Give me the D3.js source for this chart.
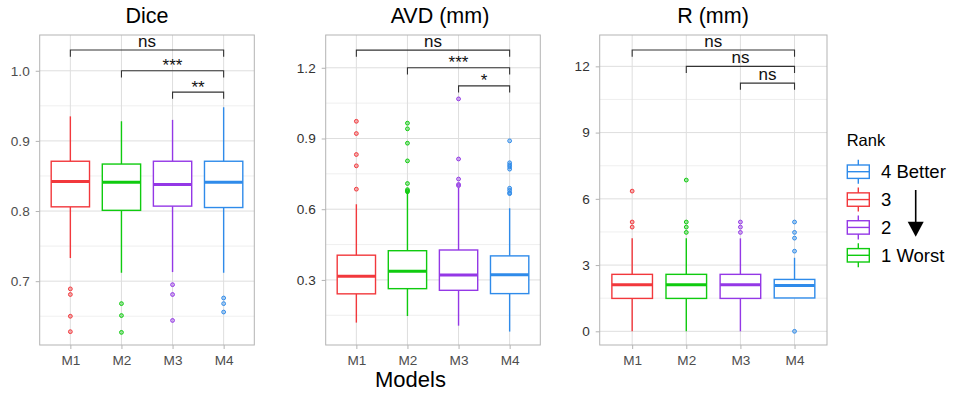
<!DOCTYPE html>
<html>
<head>
<meta charset="utf-8">
<script src="https://cdn.jsdelivr.net/npm/d3@7"></script>
<style>
  html, body { margin: 0; padding: 0; background: #fff; }
  svg { display: block; font-family: "Liberation Sans", Arial, Helvetica, sans-serif; }
</style>
</head>
<body>
<svg id="chart" width="955" height="396"></svg>
<script>
// ---------------- DATA ----------------
const models = ["M1", "M2", "M3", "M4"];
const modelColors = ["#f2383c", "#0fcb0f", "#9438e6", "#2f8bea"];
const legendLabels = ["4 Better", "3", "2", "1 Worst"];
const legendColors = ["#2f8bea", "#f2383c", "#9438e6", "#0fcb0f"];

// Dice
const diceQ1  = [0.806, 0.801, 0.807, 0.805];
const diceMed = [0.842, 0.841, 0.838, 0.841];
const diceQ3  = [0.871, 0.867, 0.871, 0.871];
const diceLo  = [0.733, 0.712, 0.713, 0.712];
const diceHi  = [0.935, 0.928, 0.930, 0.948];
const diceOut = [[0.689, 0.681, 0.650, 0.628], [0.668, 0.651, 0.627], [0.695, 0.681, 0.644], [0.676, 0.668, 0.656]];
const diceTicks = [0.7, 0.8, 0.9, 1.0];
const diceMinor = [0.65, 0.75, 0.85, 0.95];
const diceSig = [{from: 0, to: 3, y: 1.0296, label: "ns"}, {from: 1, to: 3, y: 1.0, label: "***"}, {from: 2, to: 3, y: 0.9696, label: "**"}];

// AVD (mm)
const avdQ1  = [0.241, 0.263, 0.256, 0.242];
const avdMed = [0.316, 0.337, 0.321, 0.322];
const avdQ3  = [0.405, 0.424, 0.427, 0.402];
const avdLo  = [0.119, 0.147, 0.106, 0.081];
const avdHi  = [0.621, 0.675, 0.690, 0.604];
const avdOut = [[0.973, 0.921, 0.832, 0.784, 0.685], [0.965, 0.941, 0.880, 0.805, 0.709, 0.683, 0.678, 0.674], [1.068, 0.813, 0.728, 0.705, 0.700], [0.890, 0.797, 0.788, 0.780, 0.770, 0.689, 0.680, 0.670, 0.666]];
const avdTicks = [0.3, 0.6, 0.9, 1.2];
const avdMinor = [0.15, 0.45, 0.75, 1.05];
const avdSig = [{from: 0, to: 3, y: 1.275, label: "ns"}, {from: 1, to: 3, y: 1.2, label: "***"}, {from: 2, to: 3, y: 1.123, label: "*"}];

// R (mm)
const rQ1  = [1.49, 1.49, 1.49, 1.51];
const rMed = [2.11, 2.11, 2.11, 2.08];
const rQ3  = [2.58, 2.58, 2.58, 2.35];
const rLo  = [0, 0, 0, 1.51];
const rHi  = [4.21, 4.21, 4.21, 3.33];
const rOut = [[6.35, 4.95, 4.72], [6.85, 4.95, 4.72, 4.48], [4.95, 4.72, 4.48], [4.95, 4.48, 4.22, 3.63, 0]];
const rTicks = [0, 3, 6, 9, 12];
const rMinor = [1.5, 4.5, 7.5, 10.5];
const rSig = [{from: 0, to: 3, y: 12.74, label: "ns"}, {from: 1, to: 3, y: 12.0, label: "ns"}, {from: 2, to: 3, y: 11.24, label: "ns"}];

// ---------------- LAYOUT ----------------
const svg = d3.select("#chart");
const panelTop = 35, panelBottom = 345;

const panels = [
  {title: "Dice", x0: 39.7, x1: 254.3, dom: [0.609, 1.051], titleX: 147, fmt: d3.format(".1f"), ylabColor: "#4d4d4d",
   q1: diceQ1, med: diceMed, q3: diceQ3, lo: diceLo, hi: diceHi, out: diceOut, ticks: diceTicks, minor: diceMinor, sig: diceSig},
  {title: "AVD (mm)", x0: 325.7, x1: 540.3, dom: [0.024, 1.339], titleX: 440, fmt: d3.format(".1f"), ylabColor: "#333",
   q1: avdQ1, med: avdMed, q3: avdQ3, lo: avdLo, hi: avdHi, out: avdOut, ticks: avdTicks, minor: avdMinor, sig: avdSig},
  {title: "R (mm)", x0: 599.7, x1: 827, dom: [-0.62, 13.42], titleX: 713, fmt: d3.format("d"), ylabColor: "#333",
   q1: rQ1, med: rMed, q3: rQ3, lo: rLo, hi: rHi, out: rOut, ticks: rTicks, minor: rMinor, sig: rSig}
];

panels.forEach(p => {
  const g = svg.append("g");
  const x = d3.scalePoint().domain(models).range([p.x0, p.x1]).padding(0.6);
  const y = d3.scaleLinear().domain(p.dom).range([panelBottom, panelTop]);
  const bw = x.step() * 0.75;

  // minor grid
  g.selectAll(".minor").data(p.minor).join("line")
    .attr("x1", p.x0).attr("x2", p.x1).attr("y1", d => y(d)).attr("y2", d => y(d))
    .attr("stroke", "#ebebeb").attr("stroke-width", 0.8);
  // major grid
  g.selectAll(".majorH").data(p.ticks).join("line")
    .attr("x1", p.x0).attr("x2", p.x1).attr("y1", d => y(d)).attr("y2", d => y(d))
    .attr("stroke", "#dedede").attr("stroke-width", 1);
  g.selectAll(".majorV").data(models).join("line")
    .attr("x1", d => x(d)).attr("x2", d => x(d)).attr("y1", panelTop).attr("y2", panelBottom)
    .attr("stroke", "#dedede").attr("stroke-width", 1);

  // axes
  const ya = g.append("g").attr("transform", `translate(${p.x0},0)`)
    .call(d3.axisLeft(y).tickValues(p.ticks).tickFormat(p.fmt).tickSize(4).tickPadding(6));
  ya.select(".domain").remove();
  ya.selectAll("line").attr("stroke", "#b3b3b3");
  ya.selectAll("text").attr("fill", p.ylabColor).style("font-size", "13.6px");

  const xa = g.append("g").attr("transform", `translate(0,${panelBottom})`)
    .call(d3.axisBottom(x).tickSize(4).tickPadding(6.5));
  xa.select(".domain").remove();
  xa.selectAll("line").attr("stroke", "#b3b3b3");
  xa.selectAll("text").attr("fill", "#4d4d4d").style("font-size", "13.6px");

  // boxes
  models.forEach((m, i) => {
    const c = modelColors[i];
    const cx = x(m);
    const bg = g.append("g");
    bg.append("line").attr("x1", cx).attr("x2", cx).attr("y1", y(p.q3[i])).attr("y2", y(p.hi[i]))
      .attr("stroke", c).attr("stroke-width", 1.4);
    bg.append("line").attr("x1", cx).attr("x2", cx).attr("y1", y(p.q1[i])).attr("y2", y(p.lo[i]))
      .attr("stroke", c).attr("stroke-width", 1.4);
    bg.append("rect").attr("x", cx - bw / 2).attr("width", bw)
      .attr("y", y(p.q3[i])).attr("height", y(p.q1[i]) - y(p.q3[i]))
      .attr("fill", "#fff").attr("stroke", c).attr("stroke-width", 1.4);
    bg.append("line").attr("x1", cx - bw / 2).attr("x2", cx + bw / 2)
      .attr("y1", y(p.med[i])).attr("y2", y(p.med[i]))
      .attr("stroke", c).attr("stroke-width", 3);
    bg.selectAll("circle").data(p.out[i]).join("circle")
      .attr("cx", cx).attr("cy", d => y(d)).attr("r", 1.9)
      .attr("fill", c).attr("fill-opacity", 0.35).attr("stroke", c).attr("stroke-width", 1);
  });

  // panel border
  g.append("rect").attr("x", p.x0).attr("y", panelTop).attr("width", p.x1 - p.x0).attr("height", panelBottom - panelTop)
    .attr("fill", "none").attr("stroke", "#b3b3b3").attr("stroke-width", 1);

  // significance brackets
  p.sig.forEach(s => {
    const xa1 = x(models[s.from]), xa2 = x(models[s.to]), yy = y(s.y);
    g.append("path")
      .attr("d", `M${xa1},${yy + 6.7}V${yy}H${xa2}V${yy + 6.7}`)
      .attr("fill", "none").attr("stroke", "#333").attr("stroke-width", 1.1);
    const isStar = s.label.indexOf("*") >= 0;
    g.append("text").attr("x", (xa1 + xa2) / 2).attr("y", isStar ? yy + 0.5 : yy - 3)
      .attr("text-anchor", "middle").style("font-size", "17px").attr("fill", "#111").text(s.label);
  });

  // title
  svg.append("text").attr("x", p.titleX).attr("y", 22.5).attr("text-anchor", "middle")
    .style("font-size", "21.5px").attr("fill", "#000").text(p.title);
});

// x axis title
svg.append("text").attr("x", 410.5).attr("y", 387.3).attr("text-anchor", "middle")
  .style("font-size", "22px").attr("fill", "#000").text("Models");

// legend
const lg = svg.append("g");
lg.append("text").attr("x", 846.7).attr("y", 145.7).style("font-size", "16.5px").attr("fill", "#000").text("Rank");
const keyY = d3.scalePoint().domain(legendLabels).range([171.7, 255.3]);
legendLabels.forEach((lab, i) => {
  const cy = keyY(lab), c = legendColors[i];
  const kx0 = 847.3, kx1 = 869.3, kc = (kx0 + kx1) / 2;
  lg.append("line").attr("x1", kc).attr("x2", kc).attr("y1", cy - 12).attr("y2", cy + 12)
    .attr("stroke", c).attr("stroke-width", 1.4);
  lg.append("rect").attr("x", kx0).attr("y", cy - 6.7).attr("width", kx1 - kx0).attr("height", 13.4)
    .attr("fill", "#fff").attr("stroke", c).attr("stroke-width", 1.4);
  lg.append("line").attr("x1", kx0).attr("x2", kx1).attr("y1", cy).attr("y2", cy)
    .attr("stroke", c).attr("stroke-width", 1.4);
  lg.append("text").attr("x", 881).attr("y", cy + 6.4).style("font-size", "18.5px").attr("fill", "#000").text(lab);
});
// arrow
lg.append("line").attr("x1", 915.7).attr("x2", 915.7).attr("y1", 190).attr("y2", 223)
  .attr("stroke", "#000").attr("stroke-width", 1.6);
lg.append("path").attr("d", "M907.7,221.7 L923.7,221.7 L915.7,236.7 Z").attr("fill", "#000");
</script>
</body>
</html>
